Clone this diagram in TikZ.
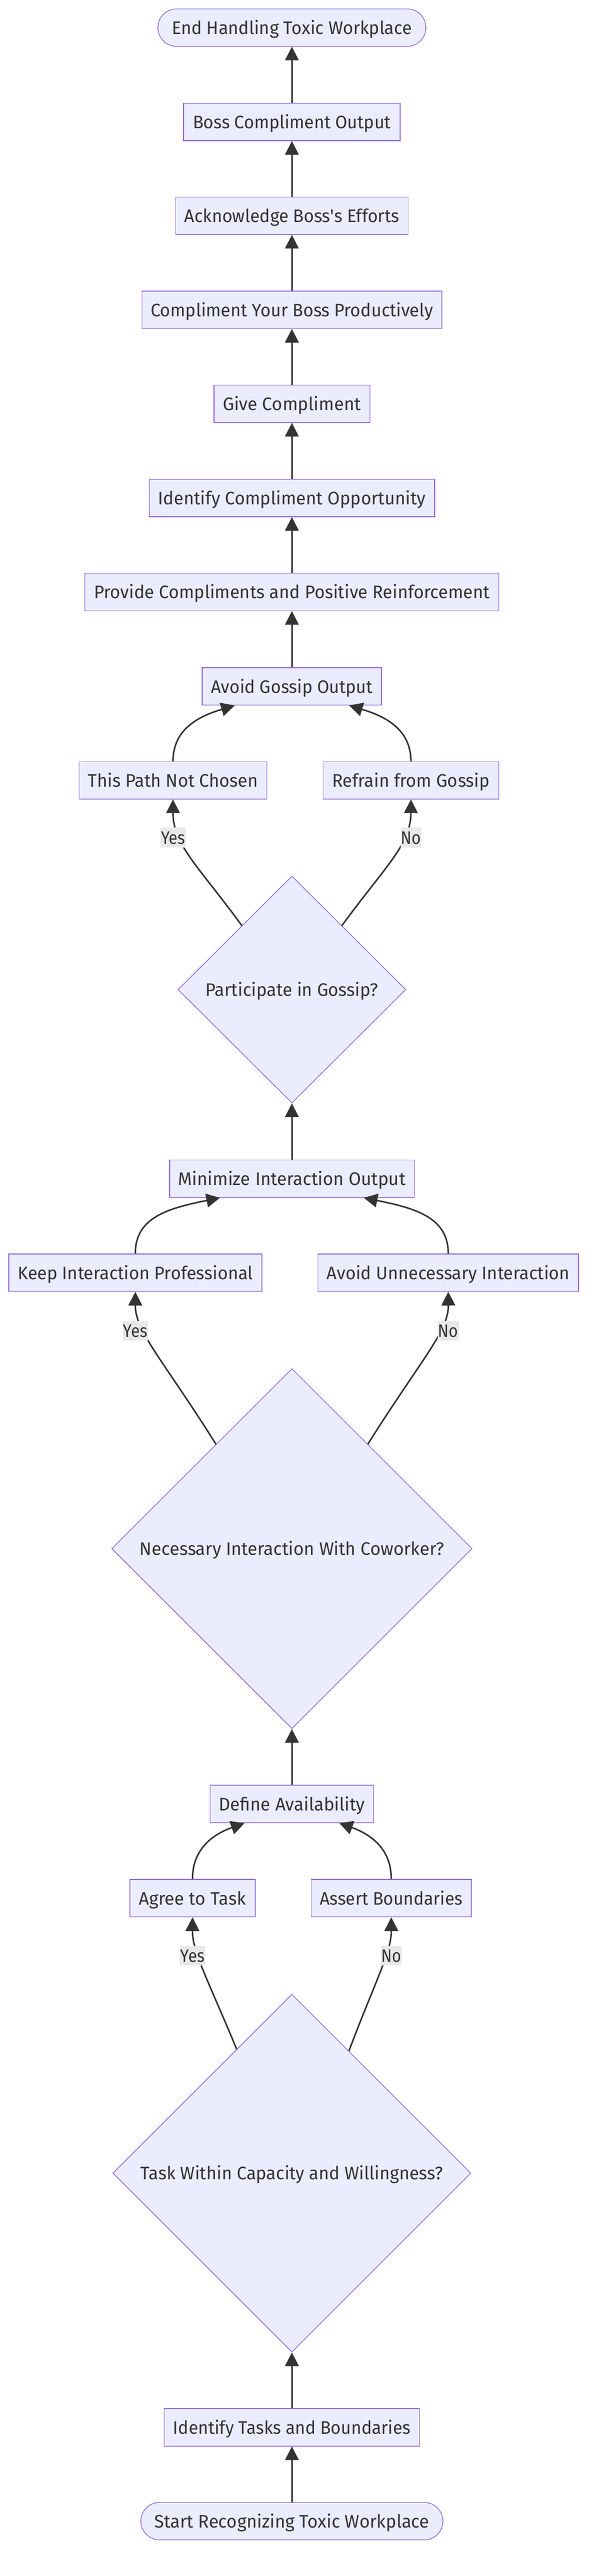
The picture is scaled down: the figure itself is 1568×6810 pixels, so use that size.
\documentclass[tikz,border=0pt]{standalone}
\usepackage{fontspec}
\usepackage{graphicx}
\setmainfont{Fira Sans}
\usetikzlibrary{shapes.geometric,arrows.meta}
\definecolor{nodefill}{HTML}{ECECFF}
\definecolor{nodeline}{HTML}{9370DB}
\definecolor{ink}{HTML}{333333}
\definecolor{lblfill}{HTML}{E8E8E8}
\newcommand{\fitw}[2]{\resizebox{#1pt}{\height}{#2}}
\begin{document}
\begin{tikzpicture}[x=1pt,y=-1pt,
  base/.style={draw=nodeline, line width=2pt, fill=nodefill, text=ink, inner sep=0pt, text height=35pt, text depth=0pt, font=\fontsize{48}{58}\selectfont},
  box/.style={base, rectangle, minimum height=99pt},
  stadium/.style={box, rounded corners=49.5pt},
  decision/.style={base, diamond, aspect=1},
  arr/.style={draw=ink, line width=4pt, -{Triangle[length=36pt,width=36pt]}},
  lbl/.style={fill=lblfill, text=ink, inner sep=0pt, minimum height=52pt, text height=35pt, text depth=0pt, font=\fontsize{48}{58}\selectfont}]
\useasboundingbox[fill=white] (0,0) rectangle (1568,6810);

\node[stadium, minimum width=708pt] (endn) at (771,73) {\fitw{634}{End Handling Toxic Workplace}};
\node[box, minimum width=572pt] (bossout) at (771,322.5) {\fitw{523}{Boss Compliment Output}};
\node[box, minimum width=614pt] (ack) at (771,570.5) {\fitw{567}{Acknowledge Boss\textquotesingle s Efforts}};
\node[box, minimum width=792pt] (compboss) at (771,819) {\fitw{746}{Compliment Your Boss Productively}};
\node[box, minimum width=412pt] (give) at (771,1067.5) {\fitw{365}{Give Compliment}};
\node[box, minimum width=754pt] (identcomp) at (771,1316.5) {\fitw{707}{Identify Compliment Opportunity}};
\node[box, minimum width=1094pt] (provide) at (771,1565) {\fitw{1046}{Provide Compliments and Positive Reinforcement}};
\node[box, minimum width=474pt] (gossipout) at (771,1814.5) {\fitw{427}{Avoid Gossip Output}};
\node[box, minimum width=496pt] (notchosen) at (457,2063) {\fitw{449}{This Path Not Chosen}};
\node[box, minimum width=465pt] (refrain) at (1085.5,2063) {\fitw{416}{Refrain from Gossip}};
\node[decision, minimum width=602pt, minimum height=600pt] (gossip) at (771,2616) {\fitw{456}{Participate in Gossip?}};
\node[box, minimum width=646pt] (minout) at (771,3116) {\fitw{601}{Minimize Interaction Output}};
\node[box, minimum width=669pt] (keep) at (357.5,3364.5) {\fitw{621}{Keep Interaction Professional}};
\node[box, minimum width=688pt] (avoidunn) at (1184,3364.5) {\fitw{642}{Avoid Unnecessary Interaction}};
\node[decision, minimum width=952pt, minimum height=952pt] (necessary) at (771,4094) {\fitw{804}{Necessary Interaction With Coworker?}};
\node[box, minimum width=432pt] (define) at (771,4769) {\fitw{386}{Define Availability}};
\node[box, minimum width=331pt] (agree) at (508.5,5018) {\fitw{283}{Agree to Task}};
\node[box, minimum width=423pt] (assert) at (1033.5,5018) {\fitw{377}{Assert Boundaries}};
\node[decision, minimum width=946pt, minimum height=946pt] (task) at (771,5745) {\fitw{799}{Task Within Capacity and Willingness?}};
\node[box, minimum width=674pt] (identtasks) at (771,6417) {\fitw{627}{Identify Tasks and Boundaries}};
\node[stadium, minimum width=798pt] (start) at (771,6665) {\fitw{726}{Start Recognizing Toxic Workplace}};

% straight edges
\draw[arr] (bossout.north) -- (endn.south);
\draw[arr] (ack.north) -- (bossout.south);
\draw[arr] (compboss.north) -- (ack.south);
\draw[arr] (give.north) -- (compboss.south);
\draw[arr] (identcomp.north) -- (give.south);
\draw[arr] (provide.north) -- (identcomp.south);
\draw[arr] (gossipout.north) -- (provide.south);
\draw[arr] (minout.north) -- (gossip.south);
\draw[arr] (define.north) -- (necessary.south);
\draw[arr] (identtasks.north) -- (task.south);
\draw[arr] (start.north) -- (identtasks.south);

% gossip decision
\draw[arr] (gossip.128) .. controls (521,2286) and (457,2233) .. (notchosen.south);
\draw[arr] (gossip.52) .. controls (1021,2286) and (1085,2233) .. (refrain.south);
\draw[arr] (notchosen.north) .. controls (457,1930) and (520,1895) .. ([xshift=-151pt]gossipout.south);
\draw[arr] (refrain.north) .. controls (1085,1930) and (1022,1895) .. ([xshift=151pt]gossipout.south);

% necessary decision
\draw[arr] (necessary.126) .. controls (432,3597) and (357,3520) .. (keep.south);
\draw[arr] (necessary.54) .. controls (1110,3597) and (1185,3520) .. (avoidunn.south);
\draw[arr] (keep.north) .. controls (357,3220) and (440,3195) .. ([xshift=-190pt]minout.south);
\draw[arr] (avoidunn.north) .. controls (1184,3220) and (1102,3195) .. ([xshift=190pt]minout.south);

% task decision
\draw[arr] (task.114.6) .. controls (549,5233) and (508,5160) .. (agree.south);
\draw[arr] (task.65.4) .. controls (993,5233) and (1034,5160) .. (assert.south);
\draw[arr] (agree.north) .. controls (508,4890) and (560,4850) .. ([xshift=-125pt]define.south);
\draw[arr] (assert.north) .. controls (1034,4890) and (982,4850) .. ([xshift=125pt]define.south);

% edge labels
\node[lbl, minimum width=66pt] (y1) at (457,2214) {\fitw{64}{Yes}};
\node[lbl, minimum width=55pt] (n1) at (1085.5,2214) {\fitw{53}{No}};
\node[lbl, minimum width=66pt] (y2) at (357.5,3518) {\fitw{64}{Yes}};
\node[lbl, minimum width=55pt] (n2) at (1184,3518) {\fitw{53}{No}};
\node[lbl, minimum width=66pt] (y3) at (508.5,5170) {\fitw{64}{Yes}};
\node[lbl, minimum width=55pt] (n3) at (1033.5,5170) {\fitw{53}{No}};
\end{tikzpicture}
\end{document}
